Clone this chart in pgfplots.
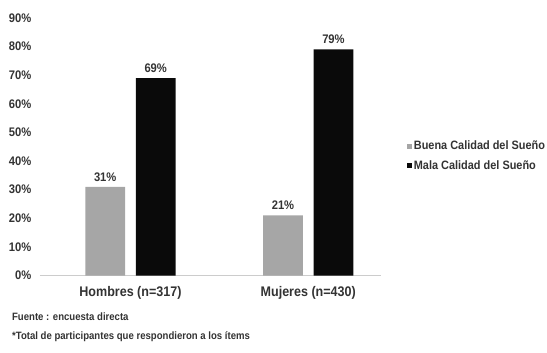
\documentclass[border=0pt]{standalone}
\usepackage{pgfplots}
\pgfplotsset{compat=1.18}
\usetikzlibrary{calc}
\usepackage{fontspec}
\setmainfont{Liberation Sans}[FakeStretch=0.9]
\definecolor{cgray}{HTML}{A6A6A6}
\definecolor{cblack}{HTML}{0A0A0A}
\definecolor{ctext}{HTML}{333333}
\begin{document}
\begin{tikzpicture}[x=1pt,y=1pt]
\begin{axis}[
  scale only axis, width=343pt, height=259pt,
  ymin=0, ymax=90, ytick={0,10,...,90},
  yticklabel={\pgfmathprintnumber{\tick}\%},
  /pgf/number format/assume math mode=true,
  xmin=-0.51, xmax=1.41,
  xtick={0,1}, xticklabels={Hombres (n=317), Mujeres (n=430)},
  axis y line*=left, axis x line*=bottom,
  y axis line style={draw=none},
  x axis line style={draw=gray!40, -},
  major tick length=0pt,
  ticklabel style={font=\bfseries\fontsize{12.5}{14}\selectfont, text=ctext},
  yticklabel style={xshift=-5pt},
  xticklabel style={yshift=-7pt, font=\bfseries\fontsize{14}{16}\selectfont},
  clip=false,
  ybar, bar width=0.223,
  nodes near coords={\pgfmathprintnumber{\pgfplotspointmeta}\%},
  nodes near coords style={font=\bfseries\fontsize{12.5}{14}\selectfont, text=ctext, yshift=2pt},
  legend style={draw=none, at={(1.075,0.465)}, anchor=west, font=\bfseries\fontsize{12.2}{14}\selectfont, text=ctext, row sep=5pt, inner sep=0pt},
  legend cell align=left,
  legend image code/.code={\fill[#1] (0pt,-2.5pt) rectangle (5pt,2.5pt);},
]
\addplot[fill=cgray, draw=none, bar shift=-0.142] coordinates {(0,31) (1,21)};
\addlegendentry{Buena Calidad del Sueño}
\addplot[fill=cblack, draw=none, bar shift=0.142] coordinates {(0,69) (1,79)};
\addlegendentry{Mala Calidad del Sueño}
\path (rel axis cs:0,0) ++(-40pt,-77pt) coordinate (bl);
\path (rel axis cs:1,1) ++(164pt,18pt) coordinate (tr);
\useasboundingbox (bl) rectangle (tr);
\node[anchor=west, font=\bfseries\fontsize{10.7}{12}\selectfont, text=ctext, inner sep=0pt] at ($(bl)+(12pt,36pt)$) {Fuente : encuesta directa};
\node[anchor=west, font=\bfseries\fontsize{10.7}{12}\selectfont, text=ctext, inner sep=0pt] at ($(bl)+(12pt,16pt)$) {*Total de participantes que respondieron a los ítems};
\end{axis}
\end{tikzpicture}
\end{document}
